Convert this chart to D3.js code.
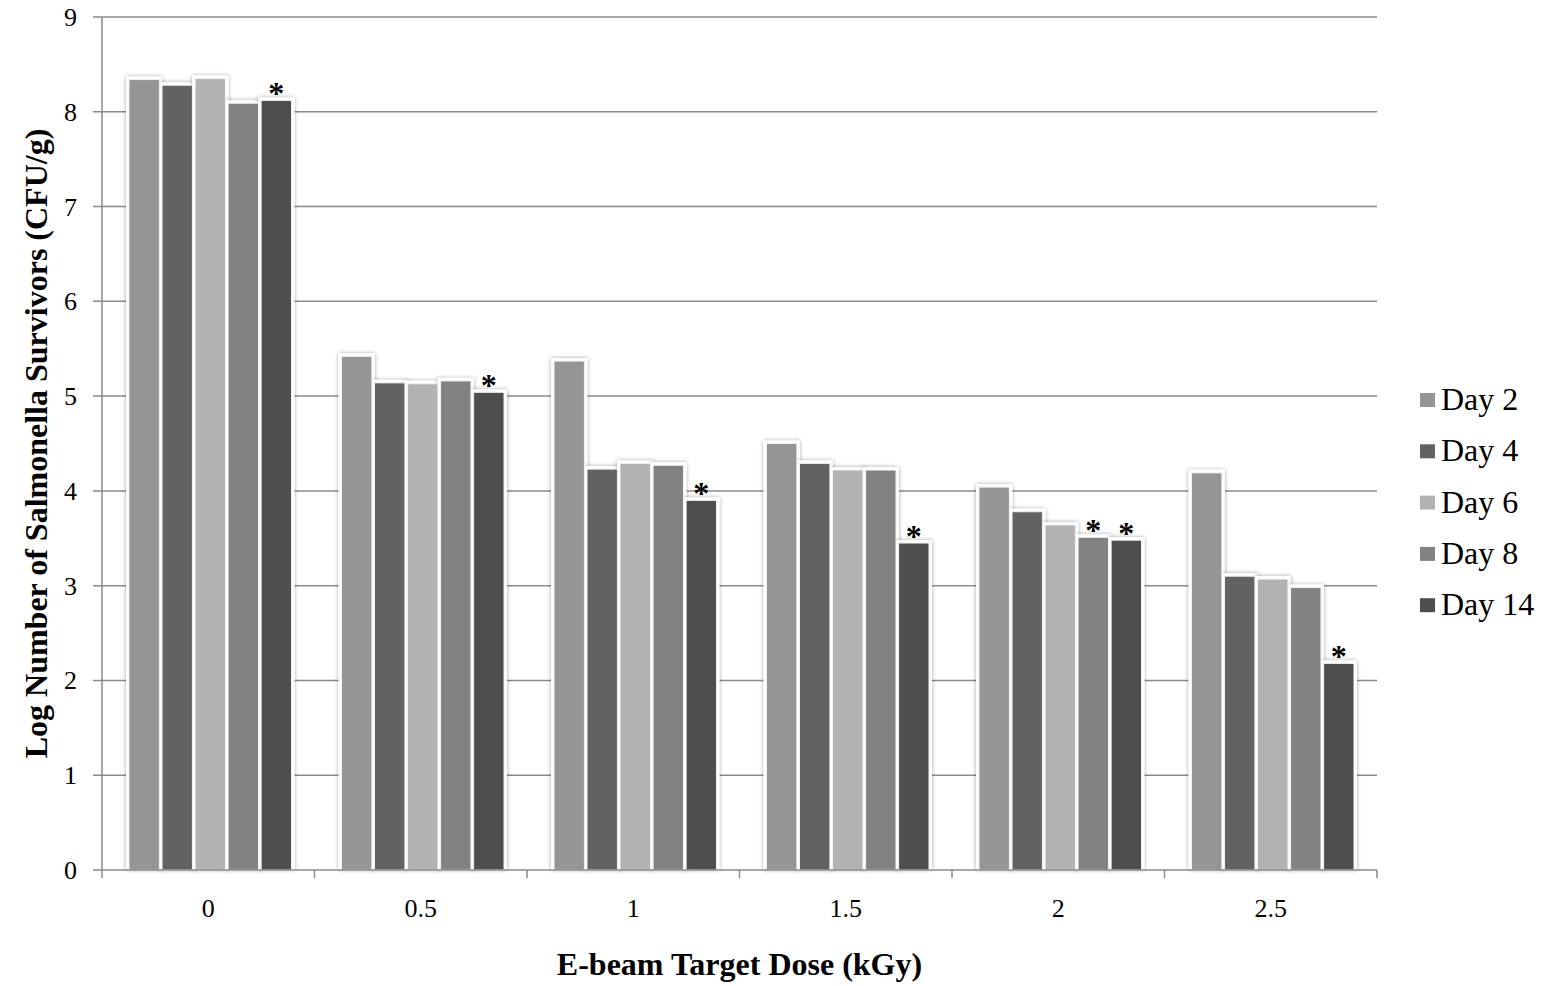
<!DOCTYPE html>
<html>
<head>
<meta charset="utf-8">
<script src="https://cdn.jsdelivr.net/npm/d3@7"></script>
<style>
    body { margin: 0; background: #fff; }
    svg text { font-family: "Liberation Serif", "Times New Roman", serif; fill: #000; }
</style>
</head>
<body>
<div id="chart"></div>
<script>
// data
const doses = ["0", "0.5", "1", "1.5", "2", "2.5"];
const days = ["Day 2", "Day 4", "Day 6", "Day 8", "Day 14"];
const day2 = [8.34, 5.42, 5.37, 4.50, 4.04, 4.19];
const day4 = [8.28, 5.14, 4.23, 4.29, 3.78, 3.10];
const day6 = [8.35, 5.13, 4.29, 4.22, 3.64, 3.07];
const day8 = [8.09, 5.16, 4.27, 4.22, 3.51, 2.98];
const day14 = [8.12, 5.04, 3.90, 3.45, 3.48, 2.18];
// significance markers: [dose, day]
const stars = [["0", "Day 14"], ["0.5", "Day 14"], ["1", "Day 14"], ["1.5", "Day 14"],
               ["2", "Day 8"], ["2", "Day 14"], ["2.5", "Day 14"]];
const yTicks = [0, 1, 2, 3, 4, 5, 6, 7, 8, 9];
const colors = ["#959595", "#626262", "#b2b2b2", "#828282", "#4e4e4e"];

const seriesValues = [day2, day4, day6, day8, day14];
const rows = [];
doses.forEach((dose, i) => {
    days.forEach((day, j) => {
        rows.push({dose: dose, day: day, value: seriesValues[j][i]});
    });
});

const W = 1545, H = 986;
const margin = {top: 17, right: 168, bottom: 116, left: 102};
const width = W - margin.left - margin.right;
const height = H - margin.top - margin.bottom;

const svg = d3.select("#chart").append("svg")
    .attr("width", W)
    .attr("height", H);

// soft shadow behind the bars
const defs = svg.append("defs");
const filt = defs.append("filter").attr("id", "glow")
    .attr("x", "-50%").attr("y", "-50%").attr("width", "200%").attr("height", "200%");
filt.append("feGaussianBlur").attr("in", "SourceAlpha").attr("stdDeviation", 2.2).attr("result", "blur");
filt.append("feComponentTransfer").attr("in", "blur").attr("result", "soft")
    .append("feFuncA").attr("type", "linear").attr("slope", 0.35);
const merge = filt.append("feMerge");
merge.append("feMergeNode").attr("in", "soft");
merge.append("feMergeNode").attr("in", "SourceGraphic");

const g = svg.append("g")
    .attr("transform", "translate(" + margin.left + "," + margin.top + ")");

const x0 = d3.scaleBand().domain(doses).range([0, width]);
const x1 = d3.scaleBand().domain(days)
    .range([27, x0.bandwidth() - 23])
    .paddingInner(0.08);
const y = d3.scaleLinear().domain([0, 9]).range([height, 0]);
const color = d3.scaleOrdinal().domain(days).range(colors);

// gridlines + left ticks
g.append("g").attr("class", "grid")
    .selectAll("line").data(yTicks.filter(d => d > 0)).join("line")
    .attr("x1", -9).attr("x2", width)
    .attr("y1", d => y(d)).attr("y2", d => y(d))
    .attr("stroke", "#8a8a8a").attr("stroke-width", 1.5);

g.append("g")
    .selectAll("line").data([0]).join("line")
    .attr("x1", -9).attr("x2", 0)
    .attr("y1", y(0)).attr("y2", y(0))
    .attr("stroke", "#8a8a8a").attr("stroke-width", 1.5);

// bars
const groups = g.append("g").selectAll("g").data(doses).join("g")
    .attr("transform", d => "translate(" + x0(d) + ",0)");

// white halo behind each bar hides the gridlines
groups.selectAll("rect.halo")
    .data(d => rows.filter(r => r.dose === d))
    .join("rect")
    .attr("class", "halo")
    .attr("x", d => x1(d.day) - 3)
    .attr("y", d => y(d.value) - 3)
    .attr("width", x1.bandwidth() + 6)
    .attr("height", d => height - y(d.value) + 3)
    .attr("fill", "#fff")
    .attr("filter", "url(#glow)");

groups.selectAll("rect.bar")
    .data(d => rows.filter(r => r.dose === d))
    .join("rect")
    .attr("class", "bar")
    .attr("x", d => x1(d.day))
    .attr("y", d => y(d.value))
    .attr("width", x1.bandwidth())
    .attr("height", d => height - y(d.value))
    .attr("fill", d => color(d.day))
    .attr("stroke", "#f2f2f2")
    .attr("stroke-width", 1);

// asterisks
g.append("g").selectAll("text").data(stars).join("text")
    .attr("x", d => x0(d[0]) + x1(d[1]) + x1.bandwidth() / 2)
    .attr("y", d => y(rows.find(r => r.dose === d[0] && r.day === d[1]).value) + 4)
    .attr("text-anchor", "middle")
    .attr("font-size", "32px")
    .attr("font-weight", "bold")
    .text("*");

// axes
g.append("line")
    .attr("x1", 0).attr("x2", 0).attr("y1", 0).attr("y2", height)
    .attr("stroke", "#8a8a8a").attr("stroke-width", 1.5);
g.append("line")
    .attr("x1", 0).attr("x2", width).attr("y1", height).attr("y2", height)
    .attr("stroke", "#8a8a8a").attr("stroke-width", 1.5);

const bounds = doses.map(d => x0(d)).concat([width]);
g.append("g").selectAll("line").data(bounds).join("line")
    .attr("x1", d => d).attr("x2", d => d)
    .attr("y1", height).attr("y2", height + 8)
    .attr("stroke", "#8a8a8a").attr("stroke-width", 1.5);

// tick labels
g.append("g").selectAll("text").data(yTicks).join("text")
    .attr("x", -25)
    .attr("y", d => y(d) + 9)
    .attr("text-anchor", "end")
    .attr("font-size", "26px")
    .text(d => d);

g.append("g").selectAll("text").data(doses).join("text")
    .attr("x", d => x0(d) + x0.bandwidth() / 2)
    .attr("y", height + 47)
    .attr("text-anchor", "middle")
    .attr("font-size", "26px")
    .text(d => d);

// axis titles
svg.append("text")
    .attr("transform", "translate(47," + (margin.top + height / 2) + ") rotate(-90)")
    .attr("text-anchor", "middle")
    .attr("font-size", "32px")
    .attr("font-weight", "bold")
    .text("Log Number of Salmonella Survivors (CFU/g)");

svg.append("text")
    .attr("x", margin.left + width / 2)
    .attr("y", 975)
    .attr("text-anchor", "middle")
    .attr("font-size", "32px")
    .attr("font-weight", "bold")
    .text("E-beam Target Dose (kGy)");

// legend
const legend = svg.append("g").attr("transform", "translate(1420,400)");
const item = legend.selectAll("g").data(days).join("g")
    .attr("transform", (d, i) => "translate(0," + (i * 51.3) + ")");
item.append("rect")
    .attr("x", 0).attr("y", -7)
    .attr("width", 15).attr("height", 14)
    .attr("fill", d => color(d));
item.append("text")
    .attr("x", 21).attr("y", 10)
    .attr("font-size", "32px")
    .text(d => d);
</script>
</body>
</html>
